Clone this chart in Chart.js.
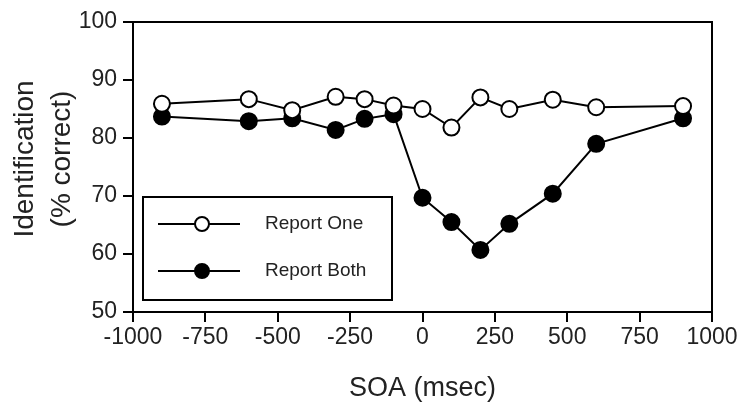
<!DOCTYPE html>
<html>
<head>
<meta charset="utf-8">
<script src="https://cdn.jsdelivr.net/npm/chart.js@4.4.0/dist/chart.umd.min.js"></script>
<style>
  html, body { margin: 0; padding: 0; background: #fff; }
  #wrap { width: 744px; height: 403px; }
</style>
</head>
<body>
<div id="wrap"><canvas id="myChart" width="744" height="403"></canvas></div>
<script>
// SOA values (msec) shared by both series
const soa = [-900, -600, -450, -300, -200, -100, 0, 100, 200, 300, 450, 600, 900];
// Identification (% correct)
const reportOne  = [85.9, 86.7, 84.8, 87.1, 86.7, 85.6, 85.0, 81.8, 87.0, 85.0, 86.6, 85.3, 85.5];
const reportBoth = [83.7, 82.9, 83.4, 81.4, 83.3, 84.1, 69.7, 65.5, 60.7, 65.2, 70.4, 79.0, 83.4];
const xTicks = [-1000, -750, -500, -250, 0, 250, 500, 750, 1000];
const yTicks = [50, 60, 70, 80, 90, 100];
const yTitle = ['Identification', '(% correct)'];

const FONT = "'Liberation Sans', Arial, Helvetica, sans-serif";

function toPoints(ys) {
  return soa.map(function(x, i) { return { x: x, y: ys[i] }; });
}

// box round the plot area
const frame = {
  id: 'frame',
  afterDraw(chart) {
    const a = chart.chartArea, ctx = chart.ctx;
    ctx.save();
    ctx.strokeStyle = '#000';
    ctx.lineWidth = 2;
    ctx.strokeRect(a.left, a.top, a.right - a.left, a.bottom - a.top);
    ctx.restore();
  }
};

// y title sits a little above the middle of the axis in the original
const sideTitle = {
  id: 'sideTitle',
  afterDraw(chart) {
    const a = chart.chartArea, ctx = chart.ctx;
    const cy = (a.top + a.bottom) / 2 - 8;
    ctx.save();
    ctx.fillStyle = '#222';
    ctx.font = '28px ' + FONT;
    ctx.textAlign = 'center';
    ctx.textBaseline = 'middle';
    yTitle.forEach(function(t, i) {
      ctx.save();
      ctx.translate(25 + i * 37, cy);
      ctx.rotate(-Math.PI / 2);
      ctx.fillText(t, 0, 0);
      ctx.restore();
    });
    ctx.restore();
  }
};

// legend drawn inside the plot, lower left
const boxLegend = {
  id: 'boxLegend',
  afterDraw(chart) {
    const a = chart.chartArea, ctx = chart.ctx;
    const w = 249, h = 103;
    const x0 = a.left + 10, y0 = a.bottom - 12 - h;
    ctx.save();
    ctx.fillStyle = '#fff';
    ctx.fillRect(x0, y0, w, h);
    ctx.strokeStyle = '#000';
    ctx.lineWidth = 2;
    ctx.strokeRect(x0, y0, w, h);
    chart.data.datasets.forEach(function(ds, i) {
      const cy = y0 + 27 + i * 47;
      ctx.beginPath();
      ctx.moveTo(x0 + 15, cy);
      ctx.lineTo(x0 + 97, cy);
      ctx.lineWidth = 2;
      ctx.stroke();
      ctx.beginPath();
      ctx.arc(x0 + 59, cy, 7, 0, Math.PI * 2);
      ctx.fillStyle = ds.pointBackgroundColor;
      ctx.fill();
      ctx.stroke();
      ctx.fillStyle = '#222';
      ctx.font = '19px ' + FONT;
      ctx.textBaseline = 'middle';
      ctx.fillText(ds.label, x0 + 122, cy);
    });
    ctx.restore();
  }
};

const data = {
  datasets: [{
    label: 'Report One',
    data: toPoints(reportOne),
    borderColor: '#000',
    borderWidth: 2,
    pointBackgroundColor: '#fff',
    pointBorderColor: '#000',
    pointBorderWidth: 2,
    pointRadius: 8
  }, {
    label: 'Report Both',
    data: toPoints(reportBoth),
    borderColor: '#000',
    borderWidth: 2,
    pointBackgroundColor: '#000',
    pointBorderColor: '#000',
    pointBorderWidth: 2,
    pointRadius: 8
  }]
};

const config = {
  type: 'line',
  data,
  options: {
    responsive: false,
    animation: false,
    layout: { padding: { left: 0, right: 32, top: 22, bottom: 0 } },
    plugins: { legend: { display: false }, tooltip: { enabled: false } },
    scales: {
      x: {
        type: 'linear',
        min: -1000, max: 1000,
        afterBuildTicks(s) { s.ticks = xTicks.map(function(v) { return { value: v }; }); },
        afterFit(s) { s.height = 91; },
        grid: { drawOnChartArea: false, drawTicks: true, tickLength: 10, color: '#000', lineWidth: 2 },
        border: { display: true, color: '#000', width: 2 },
        ticks: { color: '#222', font: { family: FONT, size: 23 }, padding: 2, maxRotation: 0,
                 callback: function(v) { return String(v); } },
        title: { display: true, text: 'SOA (msec)', color: '#222', font: { family: FONT, size: 27, lineHeight: 1.1 }, padding: { top: 0, bottom: 0 } }
      },
      y: {
        min: 50, max: 100,
        afterBuildTicks(s) { s.ticks = yTicks.map(function(v) { return { value: v }; }); },
        afterFit(s) { s.width = 133; },
        grid: { drawOnChartArea: false, drawTicks: true, tickLength: 10, color: '#000', lineWidth: 2 },
        border: { display: true, color: '#000', width: 2 },
        ticks: { color: '#222', font: { family: FONT, size: 23 }, padding: 6,
                 callback: function(v) { return String(v); } },
        title: { display: false }
      }
    }
  },
  plugins: [frame, sideTitle, boxLegend]
};

const myChart = new Chart(document.getElementById('myChart'), config);
</script>
</body>
</html>
